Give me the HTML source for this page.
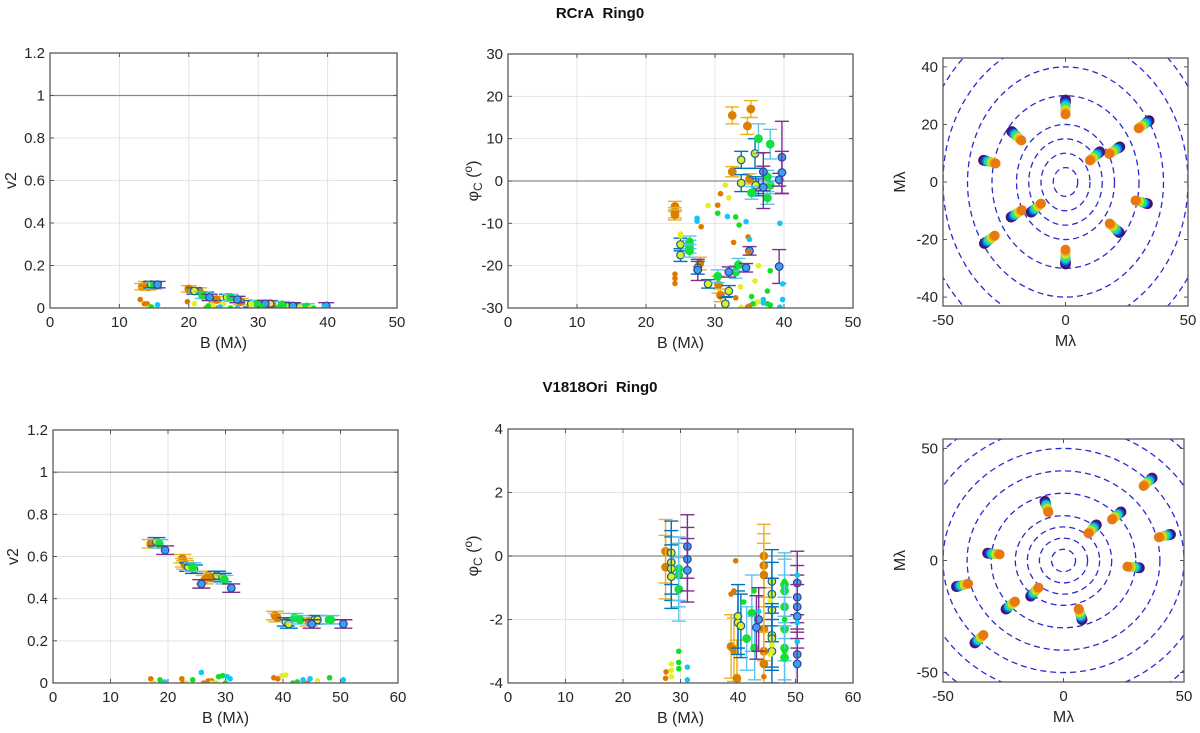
<!DOCTYPE html>
<html><head><meta charset="utf-8"><style>
html,body{margin:0;padding:0;background:#fff;}
svg{display:block;font-family:"Liberation Sans",sans-serif;}
</style></head><body>
<svg id="fig" width="1200" height="733" viewBox="0 0 1200 733">
<text x="600" y="18" text-anchor="middle" font-size="15" font-weight="bold" fill="#111">RCrA&#160;&#160;Ring0</text>
<text x="600" y="392" text-anchor="middle" font-size="15" font-weight="bold" fill="#111">V1818Ori&#160;&#160;Ring0</text>
</svg>
<script>
// ---------- data ----------
const v2TopA_B=[13.3,13.8,14.2,20,21.5,24,27.5,30.5,32];
const v2TopA_V=[0.10,0.11,0.10,0.09,0.08,0.04,0.03,0.02,0.015];
const v2TopB_B=[14.6,20.8,22.5,25.5,29,31.7,34,36];
const v2TopB_V=[0.11,0.08,0.06,0.05,0.02,0.02,0.01,0.005];
const v2TopC_B=[15,22,26,30,33.5,37];
const v2TopC_V=[0.105,0.06,0.05,0.02,0.015,0.005];
const v2TopD_B=[15.5,23,27,31,35,39.8];
const v2TopD_V=[0.11,0.05,0.04,0.02,0.01,0.01];
const v2TopDotOrB=[13,13.6,14,19.8,22.5,24.2,32.8], v2TopDotOrV=[0.04,0.02,0.02,0.03,0,0,0];
const v2TopDotYeB=[14.2,20.8,23.5,25,29,36,37.5], v2TopDotYeV=[0,0.02,0.01,0.02,0.01,0,0];
const v2TopDotGrB=[14.6,22.8,26,30.5,33,38], v2TopDotGrV=[0.005,0.01,0,0.01,0.005,0];
const v2TopDotCyB=[15.5,24.5,27,35,39.5], v2TopDotCyV=[0.015,0.005,0,0,0.005];

const phTopA_B=[24.2,24.2,24.2,32.5,34.7,35.2,32.5,35,27.8,30.5,30.8];
const phTopA_P=[-6,-7.5,-8,15.5,13,17,2.2,0.5,-19.5,-24.5,-27];
const phTopA_E=[1.2,1.2,1.2,2,2,2,1.2,1.2,1.5,2,1.5];
const phTopB_B=[25,25,29,31.5,32,33.8,33.8,35.8,36.3,35.9,27.5];
const phTopB_P=[-15,-17.5,-24.3,-29,-26,5,-0.5,6.5,-1.5,-1,-20.5];
const phTopB_E=[1.5,1.5,1,1.5,1.3,2,2,3.5,2,2,1.5];
const phTopC_B=[26.3,26.3,26.3,36.3,38,35.3,37.6,38,37.6,30.4,33,33.4];
const phTopC_P=[-14.5,-15.5,-16.5,10,8.7,-2.8,-4,-1,1,-22.5,-21.5,-19.8];
const phTopC_E=[1.5,1.5,1.5,3.5,3.5,1.5,1.5,2,1.5,1.5,1.5,1.5];
const phTopD_B=[27.5,32,34.5,35,37,37,39.3,39.7,39.7,39.3];
const phTopD_P=[-21,-21.5,-20.5,-16.5,2.2,-1.5,0.3,5.6,2,-20.2];
const phTopD_E=[2.5,1.2,1,1,4.5,5,1.5,8.5,5,4];
const phTopDotOrB=[24.2,24.2,24.2,28,30.4,30.8,32.7,34.8,34.8,33,34.7,35];
const phTopDotOrP=[-22,-23,-24.2,-10.8,-5.7,-3,-14.5,-13.2,-16.8,-27.6,-29.8,-29.5];
const phTopDotYeB=[25,25,29,31.5,32,33.7,35.8,36.3,35.8,36.2,33.8];
const phTopDotYeP=[-12.5,-13,-5.8,-1,-4,-25,-23.6,-20,-29,-28.5,-29.8];
const phTopDotGrB=[26.4,30.4,33,33.5,35.3,37.6,38,35.5,37.6,38];
const phTopDotGrP=[-14,-7.6,-8.5,-10.4,-27.3,-26,-21.2,-29,-29,-29.3];
const phTopDotCyB=[27.4,27.4,31.8,34.5,35,37,37,39.4,39.8,39.8,39.4];
const phTopDotCyP=[-8.8,-9.5,-8.4,-9.6,-13.8,-28,-28.8,-10,-24.3,-28,-29.8];

const uvTopU=[0,0,32,-31,-20,20,-31,31,20,-20,12,-12];
const uvTopV=[26,-26,20,-20,16,-16,7,-7,11,-11,9,-9];

const v2BotA_B=[17,22.5,22.8,23,26.4,27,27.5,38.6,39,44.5];
const v2BotA_V=[0.66,0.59,0.57,0.56,0.49,0.51,0.50,0.32,0.31,0.29];
const v2BotB_B=[18,23.5,24.5,28.5,29.5,40.5,41,45.5,46];
const v2BotB_V=[0.67,0.55,0.54,0.51,0.50,0.29,0.28,0.30,0.30];
const v2BotC_B=[18.5,24.3,29.8,42,43,48,48.3];
const v2BotC_V=[0.66,0.55,0.49,0.31,0.30,0.30,0.30];
const v2BotD_B=[19.5,25.8,31,45,50.5];
const v2BotD_V=[0.63,0.47,0.45,0.28,0.28];
const v2BotDotOrB=[17,22.4,22.6,26.2,27,27.6,38.4,39.1,44.3], v2BotDotOrV=[0.02,0.02,0,0,0.01,0.01,0.025,0.02,0];
const v2BotDotYeB=[17.5,23.2,27.6,28.4,39.8,40.5,46], v2BotDotYeV=[0,0,0,0,0.035,0.038,0.01];
const v2BotDotGrB=[18.6,24.3,28.8,29.5,30,41.7,42.5,48.1], v2BotDotGrV=[0.015,0.015,0.03,0.035,0,0,0.005,0.025];
const v2BotDotCyB=[19.4,25.8,30.3,30.8,43.5,44.7,50.5], v2BotDotCyV=[0.005,0.05,0.03,0.02,0.015,0.02,0.015];

const phBotA_B=[27.4,27.4,38.8,39.3,39.8,44.5,44.5,44.5,44.5,44.5,44.5];
const phBotA_P=[0.15,-0.35,-2.85,-2.95,-3.85,0,-0.3,-0.6,-2.3,-3.0,-3.4];
const phBotA_E=[1,1,1,1,1.2,1,1,1,1,1,1];
const phBotB_B=[28.4,28.4,28.4,28.4,40,40,40.5,45.9,45.9,45.9,45.9,45.9,45.9];
const phBotB_P=[0.1,-0.2,-0.4,-0.65,-1.9,-2.1,-2.2,-0.8,-1.2,-1.7,-2.5,-2.6,-3.0];
const phBotB_E=[1,1,1,1,1,1,1,1,1,1,1,1,1];
const phBotC_B=[29.7,29.7,29.7,41.5,42.4,42.9,48.1,48.1,48.1,48.1,48.1,48.1];
const phBotC_P=[-0.4,-0.6,-1.05,-2.6,-1.8,-2.9,-0.9,-1.1,-1.6,-2.3,-2.9,-3.2];
const phBotC_E=[1,1,1,1,1.2,1,1,1,1,1,1,1];
const phBotD_B=[31.2,31.2,31.2,43.6,43.2,50.3,50.3,50.3,50.3,50.3,50.3];
const phBotD_P=[0.3,-0.1,-0.45,-2.0,-2.25,-0.85,-1.3,-1.6,-1.9,-3.1,-3.4];
const phBotD_E=[1,1,1,1,1,1,1,1,1,1,1];
const phBotDotOrB=[27.5,27.4,38.8,39.3,39.6,44.5], phBotDotOrP=[-3.65,-3.85,-1.2,-1.1,-0.15,-3.8];
const phBotDotYeB=[28.4,28.4,28.4,40,45.6,45.9,45.6], phBotDotYeP=[-3.4,-3.6,-3.8,-1.9,-1.4,-2.8,-3.1];
const phBotDotGrB=[29.7,29.7,29.7,41,42.3,42.8,48.1,48.1,48.1], phBotDotGrP=[-3.0,-3.35,-3.55,-1.45,-1.8,-1.1,-0.8,-2.0,-3.0];
const phBotDotCyB=[31.2,31.2,43.6,50.3,50.3,50.3], phBotDotCyP=[-3.5,-3.9,-1.75,-0.6,-2.1,-2.7];

const uvBotU=[-7,7,22,-22,12,-12,35,-35,42,-42,29,-29];
const uvBotV=[24,-24,20,-20,14,-14,35,-35,11,-11,-3,3];

const ringRadii=[5,10,15,20,30,40,50,60,70];
const xTicks50=[0,10,20,30,40,50], xTicks60=[0,10,20,30,40,50,60];
const v2Ticks=[0,0.2,0.4,0.6,0.8,1,1.2];
const phTopTicks=[-30,-20,-10,0,10,20,30], phBotTicks=[-4,-2,0,2,4];
const uvXTicks=[-50,0,50], uvTopYTicks=[-40,-20,0,20,40], uvBotYTicks=[-50,0,50];

// ---------- rendering ----------
const NS="http://www.w3.org/2000/svg";
const svg=document.getElementById('fig');
function mk(tag,attrs,parent){const e=document.createElementNS(NS,tag);for(const k in attrs)e.setAttribute(k,attrs[k]);(parent||svg).appendChild(e);return e;}
function panel(name,bx0,bx1,by0,by1,xr,yr){
  const g=mk('g',{});
  
  
  const sx=v=>bx0+(v-xr[0])/(xr[1]-xr[0])*(bx1-bx0);
  const sy=v=>by1-(v-yr[0])/(yr[1]-yr[0])*(by1-by0);
  return {g,sx,sy,bx0,bx1,by0,by1};
}
function axes(p,xt,yt,fmtY,grid,refY,xlab,ylabHTML,ylx){
  const g=p.g;
  if(grid){
    xt.forEach(v=>{const l=mk('line',{x1:p.sx(v),x2:p.sx(v),y1:p.by0,y2:p.by1,stroke:'#e4e4e4','stroke-width':1},g);});
    yt.forEach(v=>{const l=mk('line',{x1:p.bx0,x2:p.bx1,y1:p.sy(v),y2:p.sy(v),stroke:'#e4e4e4','stroke-width':1},g);});
  }
  if(refY!==null){const l=mk('line',{x1:p.bx0,x2:p.bx1,y1:p.sy(refY),y2:p.sy(refY),stroke:'#8a8a8a','stroke-width':1.2},g);}
  xt.forEach(v=>{
    const t=mk('text',{x:p.sx(v),y:p.by1+19,'text-anchor':'middle','font-size':15,fill:'#262626'},g);t.textContent=String(v);
    
    mk('line',{x1:p.sx(v),x2:p.sx(v),y1:p.by1,y2:p.by1-4,stroke:'#555'},g);
    mk('line',{x1:p.sx(v),x2:p.sx(v),y1:p.by0,y2:p.by0+4,stroke:'#555'},g);
  });
  yt.forEach(v=>{
    const t=mk('text',{x:p.bx0-5,y:p.sy(v)+5,'text-anchor':'end','font-size':15,fill:'#262626'},g);t.textContent=fmtY(v);
    
    mk('line',{x1:p.bx0,x2:p.bx0+4,y1:p.sy(v),y2:p.sy(v),stroke:'#555'},g);
    mk('line',{x1:p.bx1,x2:p.bx1-4,y1:p.sy(v),y2:p.sy(v),stroke:'#555'},g);
  });
  const xl=mk('text',{x:(p.bx0+p.bx1)/2,y:p.by1+40,'text-anchor':'middle','font-size':16,fill:'#262626'},g);xl.textContent=xlab;
  
  const cy=(p.by0+p.by1)/2;
  const yl=mk('text',{x:ylx,y:cy,'text-anchor':'middle','font-size':16,fill:'#262626',transform:`rotate(-90 ${ylx} ${cy})`},g);
  yl.innerHTML=ylabHTML;
  
}
function box(p){const r=mk('rect',{x:p.bx0,y:p.by0,width:p.bx1-p.bx0,height:p.by1-p.by0,fill:'none',stroke:'#5a5a5a','stroke-width':1.3},p.g);}
function clipFor(p,id){const cp=mk('clipPath',{id:id},p.g);mk('rect',{x:p.bx0,y:p.by0,width:p.bx1-p.bx0,height:p.by1-p.by0},cp);const g=mk('g',{'clip-path':`url(#${id})`},p.g);return g;}
const STY={A:{err:'#EDB120',fill:'#D98000',edge:'#D98000'},B:{err:'#0072BD',fill:'#dcf020',edge:'#1f5f8f'},C:{err:'#5DC4EE',fill:'#10e040',edge:'#10e040'},D:{err:'#7E2F8E',fill:'#3aa0ee',edge:'#3040a0'}};
function errSeries(p,g,xs,ys,es,st,cap,name){
  xs.forEach((x,i)=>{
    const X=p.sx(x),Y=p.sy(ys[i]),Y1=p.sy(ys[i]+es[i]),Y2=p.sy(ys[i]-es[i]);
    const eg=mk('g',{},g);
    
    
    mk('line',{x1:X,x2:X,y1:Y1,y2:Y2,stroke:st.err,'stroke-width':1.4},eg);
    mk('line',{x1:X-cap,x2:X+cap,y1:Y1,y2:Y1,stroke:st.err,'stroke-width':1.4},eg);
    mk('line',{x1:X-cap,x2:X+cap,y1:Y2,y2:Y2,stroke:st.err,'stroke-width':1.4},eg);
    mk('circle',{cx:X,cy:Y,r:3.8,fill:st.fill,stroke:st.edge,'stroke-width':1.2},eg);
  });
}
function dotSeries(p,g,xs,ys,col,name){
  xs.forEach((x,i)=>{const c=mk('circle',{cx:p.sx(x),cy:p.sy(ys[i]),r:2.8,fill:col},g);});
}
const fmt1=v=>(v===0||v===1)?String(v):v.toFixed(1);
const fmtI=v=>String(v);
const phLab='&#966;<tspan font-size="12" dy="4">C</tspan><tspan dy="-4"> (</tspan><tspan font-size="12" dy="-6">o</tspan><tspan dy="6">)</tspan>';
const DOTC={or:'#e07800',ye:'#e0f020',gr:'#10e020',cy:'#10c8f8'};

{const p=panel('v2-panel-rcra',50,397,53,308,[0,50],[0,1.2]);
 axes(p,xTicks50,v2Ticks,fmt1,true,1,'B (Mλ)','v2',16);
 const g=clipFor(p,'c1');
 errSeries(p,g,v2TopA_B,v2TopA_V,v2TopA_V.map(()=>0.015),STY.A,8,'v2-point-orange');
 errSeries(p,g,v2TopB_B,v2TopB_V,v2TopB_V.map(()=>0.015),STY.B,8,'v2-point-blue');
 errSeries(p,g,v2TopC_B,v2TopC_V,v2TopC_V.map(()=>0.015),STY.C,8,'v2-point-cyan');
 errSeries(p,g,v2TopD_B,v2TopD_V,v2TopD_V.map(()=>0.015),STY.D,8,'v2-point-purple');
 dotSeries(p,g,v2TopDotOrB,v2TopDotOrV,DOTC.or,'v2-dot');dotSeries(p,g,v2TopDotYeB,v2TopDotYeV,DOTC.ye,'v2-dot');
 dotSeries(p,g,v2TopDotGrB,v2TopDotGrV,DOTC.gr,'v2-dot');dotSeries(p,g,v2TopDotCyB,v2TopDotCyV,DOTC.cy,'v2-dot');
 box(p);}
{const p=panel('phase-panel-rcra',508,853,54,308,[0,50],[-30,30]);
 axes(p,xTicks50,phTopTicks,fmtI,true,0,'B (Mλ)',phLab,478);
 const g=clipFor(p,'c2');
 errSeries(p,g,phTopA_B,phTopA_P,phTopA_E,STY.A,7,'phase-point-orange');
 errSeries(p,g,phTopB_B,phTopB_P,phTopB_E,STY.B,7,'phase-point-blue');
 errSeries(p,g,phTopC_B,phTopC_P,phTopC_E,STY.C,7,'phase-point-cyan');
 errSeries(p,g,phTopD_B,phTopD_P,phTopD_E,STY.D,7,'phase-point-purple');
 dotSeries(p,g,phTopDotOrB,phTopDotOrP,DOTC.or,'phase-dot');dotSeries(p,g,phTopDotYeB,phTopDotYeP,DOTC.ye,'phase-dot');
 dotSeries(p,g,phTopDotGrB,phTopDotGrP,DOTC.gr,'phase-dot');dotSeries(p,g,phTopDotCyB,phTopDotCyP,DOTC.cy,'phase-dot');
 box(p);}
{const p=panel('v2-panel-v1818ori',53,398,430,683,[0,60],[0,1.2]);
 axes(p,xTicks60,v2Ticks,fmt1,true,1,'B (Mλ)','v2',18);
 const g=clipFor(p,'c4');
 errSeries(p,g,v2BotA_B,v2BotA_V,v2BotA_V.map(()=>0.02),STY.A,9,'v2-point-orange');
 errSeries(p,g,v2BotB_B,v2BotB_V,v2BotB_V.map(()=>0.02),STY.B,9,'v2-point-blue');
 errSeries(p,g,v2BotC_B,v2BotC_V,v2BotC_V.map(()=>0.02),STY.C,9,'v2-point-cyan');
 errSeries(p,g,v2BotD_B,v2BotD_V,v2BotD_V.map(()=>0.02),STY.D,9,'v2-point-purple');
 dotSeries(p,g,v2BotDotOrB,v2BotDotOrV,DOTC.or,'v2-dot');dotSeries(p,g,v2BotDotYeB,v2BotDotYeV,DOTC.ye,'v2-dot');
 dotSeries(p,g,v2BotDotGrB,v2BotDotGrV,DOTC.gr,'v2-dot');dotSeries(p,g,v2BotDotCyB,v2BotDotCyV,DOTC.cy,'v2-dot');
 box(p);}
{const p=panel('phase-panel-v1818ori',508,853,429,683,[0,60],[-4,4]);
 axes(p,xTicks60,phBotTicks,fmtI,true,0,'B (Mλ)',phLab,478);
 const g=clipFor(p,'c5');
 errSeries(p,g,phBotA_B,phBotA_P,phBotA_E,STY.A,7,'phase-point-orange');
 errSeries(p,g,phBotB_B,phBotB_P,phBotB_E,STY.B,7,'phase-point-blue');
 errSeries(p,g,phBotC_B,phBotC_P,phBotC_E,STY.C,7,'phase-point-cyan');
 errSeries(p,g,phBotD_B,phBotD_P,phBotD_E,STY.D,7,'phase-point-purple');
 dotSeries(p,g,phBotDotOrB,phBotDotOrP,DOTC.or,'phase-dot');dotSeries(p,g,phBotDotYeB,phBotDotYeP,DOTC.ye,'phase-dot');
 dotSeries(p,g,phBotDotGrB,phBotDotGrP,DOTC.gr,'phase-dot');dotSeries(p,g,phBotDotCyB,phBotDotCyP,DOTC.cy,'phase-dot');
 box(p);}
const UVC=['#1a1a90','#0040d0','#0090f0','#20d0c0','#40e060','#c8e820','#f0b020','#e87810'];
function uvPanel(name,bx0,bx1,by0,by1,yr,us,vs,yt,id){
  const p=panel(name,bx0,bx1,by0,by1,[-50,50],[-yr,yr]);
  axes(p,uvXTicks,yt,fmtI,false,null,'Mλ','Mλ',bx0-38);
  const g=clipFor(p,id);
  const cx=p.sx(0),cy=p.sy(0),kx=(bx1-bx0)/100,ky=(by1-by0)/(2*yr);
  ringRadii.forEach(r=>{const e=mk('ellipse',{cx:cx,cy:cy,rx:r*kx,ry:r*ky,fill:'none',stroke:'#2a2ad0','stroke-width':1.3,'stroke-dasharray':'6 4'},g);});
  us.forEach((u,i)=>{
    const v=vs[i],r=Math.hypot(u,v),du=u/r,dv=v/r;
    const tg=mk('g',{},g);
    
    
    UVC.forEach((c,j)=>{const s=2.5-j*5/(UVC.length-1);
      mk('circle',{cx:p.sx(u+du*s),cy:p.sy(v+dv*s),r:5,fill:c,stroke:j<2?'#601060':'none','stroke-width':0.8},tg);});
  });
  box(p);
}
uvPanel('uv-panel-rcra',943,1188,58,306,43.1,uvTopU,uvTopV,uvTopYTicks,'c3');
uvPanel('uv-panel-v1818ori',943,1184,439,682,54.2,uvBotU,uvBotV,uvBotYTicks,'c6');
</script>
</body></html>
